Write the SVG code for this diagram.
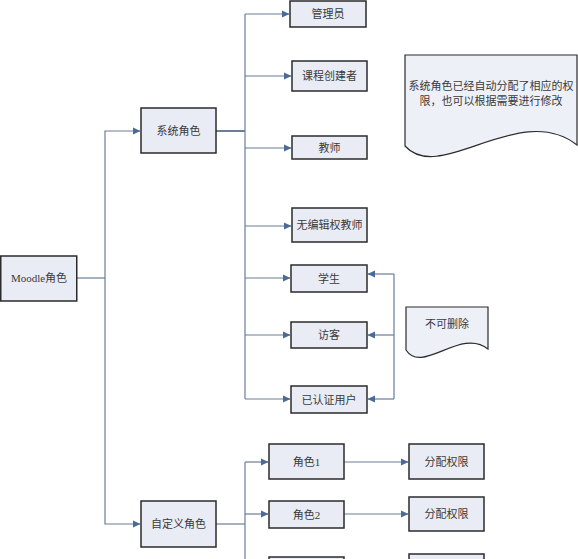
<svg xmlns="http://www.w3.org/2000/svg" width="578" height="559" viewBox="0 0 578 559">
<defs>
<marker id="ah" markerWidth="8" markerHeight="8" refX="7" refY="4" orient="auto" markerUnits="userSpaceOnUse">
<path d="M0,0.5 L7.5,4 L0,7.5 Z" fill="#4a6a9a"/>
</marker>
<style>
.box{fill:#e9ecf5;stroke:#2b2b2b;stroke-width:1.5}
.note{fill:#eef0f8;stroke:#2b2b2b;stroke-width:1.2}
.t{font-family:"Liberation Serif","Noto Sans CJK SC",serif;font-size:11px;fill:#3a3a3a;text-anchor:middle;dominant-baseline:central}
.c{fill:none;stroke:#6a7e98;stroke-width:1.2}
.a{fill:none;stroke:#6a7e98;stroke-width:1.2;marker-end:url(#ah)}
</style>
</defs>
<rect width="578" height="559" fill="#ffffff"/>
<g id="connectors">
<path class="c" d="M77,278 H105"/>
<path class="a" d="M105,278 V131 H140"/>
<path class="a" d="M105,278 V524 H140"/>
<path class="c" d="M216,131 H245" style="stroke-width:2"/>
<path class="c" d="M245,14 V399"/>
<path class="a" d="M245,14 H289"/>
<path class="a" d="M245,76 H291"/>
<path class="a" d="M245,148 H291"/>
<path class="a" d="M245,226 H291"/>
<path class="a" d="M245,278 H290"/>
<path class="a" d="M245,335 H290"/>
<path class="a" d="M245,399 H290"/>
<path class="c" d="M394,274 V399"/>
<path class="a" d="M394,274 H368"/>
<path class="a" d="M394,335 H368"/>
<path class="a" d="M394,399 H368"/>
<path class="c" d="M216,524 H245"/>
<path class="c" d="M245,462 V559"/>
<path class="a" d="M245,462 H268"/>
<path class="a" d="M245,514 H268"/>
<path class="a" d="M344,462 H408"/>
<path class="a" d="M344,514 H408"/>
</g>
<g id="moodle"><rect class="box" x="0.75" y="256" width="76" height="45"/><text class="t" x="39" y="278">Moodle角色</text></g>
<g id="xitong"><rect class="box" x="141" y="108" width="75" height="45"/><text class="t" x="178.5" y="130.5">系统角色</text></g>
<g id="zidingyi"><rect class="box" x="141" y="501" width="75" height="46"/><text class="t" x="178.5" y="524">自定义角色</text></g>
<g id="guanliyuan"><rect class="box" x="290" y="1" width="76" height="26"/><text class="t" x="328" y="14">管理员</text></g>
<g id="kecheng"><rect class="box" x="292" y="61" width="75" height="30"/><text class="t" x="329.5" y="76">课程创建者</text></g>
<g id="jiaoshi"><rect class="box" x="292" y="136" width="75" height="23"/><text class="t" x="329.5" y="147.5">教师</text></g>
<g id="wubianji"><rect class="box" x="292" y="208" width="75" height="34"/><text class="t" x="329.5" y="225">无编辑权教师</text></g>
<g id="xuesheng"><rect class="box" x="291" y="265" width="76" height="27"/><text class="t" x="329" y="278.5">学生</text></g>
<g id="fangke"><rect class="box" x="291" y="322" width="76" height="26"/><text class="t" x="329" y="335">访客</text></g>
<g id="yirenzheng"><rect class="box" x="291" y="386" width="76" height="27"/><text class="t" x="329" y="399.5">已认证用户</text></g>
<g id="note1"><path class="note" d="M405,55 H577 V145 C520,100 440,185 405,146 Z"/><text class="t" x="491" y="86">系统角色已经自动分配了相应的权</text><text class="t" x="491" y="101">限，也可以根据需要进行修改</text></g>
<g id="note2"><path class="note" d="M406,307 H488 V349 C461,327 422,375 406,350 Z"/><text class="t" x="447" y="324">不可删除</text></g>
<g id="juese1"><rect class="box" x="269" y="444" width="75" height="35"/><text class="t" x="306.5" y="461.5">角色1</text></g>
<g id="juese2"><rect class="box" x="269" y="501" width="75" height="27"/><text class="t" x="306.5" y="514.5">角色2</text></g>
<g id="juese3"><rect class="box" x="269" y="557" width="75" height="20"/></g>
<g id="fenpei1"><rect class="box" x="409" y="444" width="75" height="35"/><text class="t" x="446.5" y="461.5">分配权限</text></g>
<g id="fenpei2"><rect class="box" x="409" y="497" width="75" height="34"/><text class="t" x="446.5" y="514">分配权限</text></g>
<g id="fenpei3"><rect class="box" x="409" y="554" width="75" height="20"/></g>
</svg>
